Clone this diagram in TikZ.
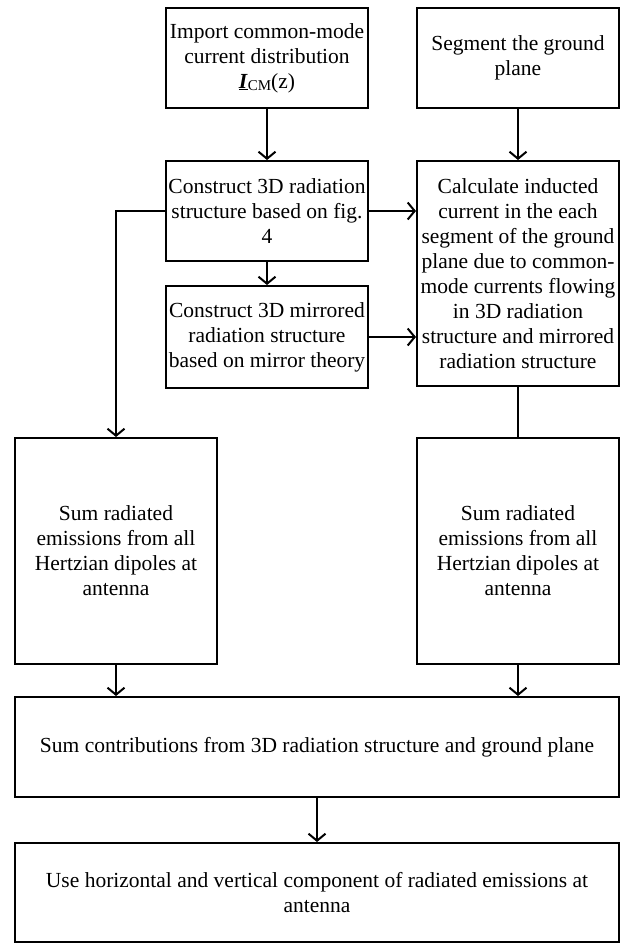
\documentclass[tikz,border=0pt]{standalone}
\usepackage{fontspec}
\setmainfont{Liberation Serif}
\usetikzlibrary{arrows.meta}
\begin{document}
\begin{tikzpicture}[x=1pt,y=-1pt,
  box/.style={draw,line width=2pt,rectangle,inner sep=0pt,align=center,
    font=\fontsize{21.5}{25}\selectfont},
  arr/.style={line width=2pt,-{Straight Barb[length=7pt,width=17pt,line width=2pt]}},
  ln/.style={line width=2pt}]
\useasboundingbox (0,0) rectangle (622,943);
\node[box,minimum width=202pt,minimum height=100pt] (imp) at (267,58)
  {Import common-mode\\current distribution\\\underline{\textbf{\textit{I}}}\raisebox{-0.25ex}{\fontsize{15}{15}\selectfont CM}(z)};
\node[box,minimum width=202pt,minimum height=100pt] (seg) at (518,58)
  {Segment the ground\\plane};
\node[box,minimum width=202pt,minimum height=100pt] (con) at (267,211)
  {Construct 3D radiation\\structure based on fig.\\4};
\node[box,minimum width=202pt,minimum height=225pt] (calc) at (518,273.5)
  {Calculate inducted\\current in the each\\segment of the ground\\plane due to common-\\mode currents flowing\\in 3D radiation\\structure and mirrored\\radiation structure};
\node[box,minimum width=202pt,minimum height=102pt] (mir) at (267,337)
  {Construct 3D mirrored\\radiation structure\\based on mirror theory};
\node[box,minimum width=202pt,minimum height=226pt] (suml) at (116,551)
  {Sum radiated\\emissions from all\\Hertzian dipoles at\\antenna};
\node[box,minimum width=202pt,minimum height=226pt] (sumr) at (518,551)
  {Sum radiated\\emissions from all\\Hertzian dipoles at\\antenna};
\node[box,minimum width=604pt,minimum height=100pt] (tot) at (317,747)
  {Sum contributions from 3D radiation structure and ground plane};
\node[box,minimum width=604pt,minimum height=99pt] (use) at (317,892.5)
  {Use horizontal and vertical component of radiated emissions at\\antenna};
\draw[arr] (imp.south) -- (con.north);
\draw[arr] (seg.south) -- (calc.north);
\draw[arr] (con.south) -- (mir.north);
\draw[arr] (con.east) -- (con.east -| calc.west);
\draw[arr] (mir.east) -- (mir.east -| calc.west);
\draw[arr] (con.west) -| (suml.north);
\draw[ln] (calc.south) -- (sumr.north);
\draw[arr] (suml.south) -- (suml.south |- tot.north);
\draw[arr] (sumr.south) -- (sumr.south |- tot.north);
\draw[arr] (tot.south) -- (use.north);
\end{tikzpicture}
\end{document}
